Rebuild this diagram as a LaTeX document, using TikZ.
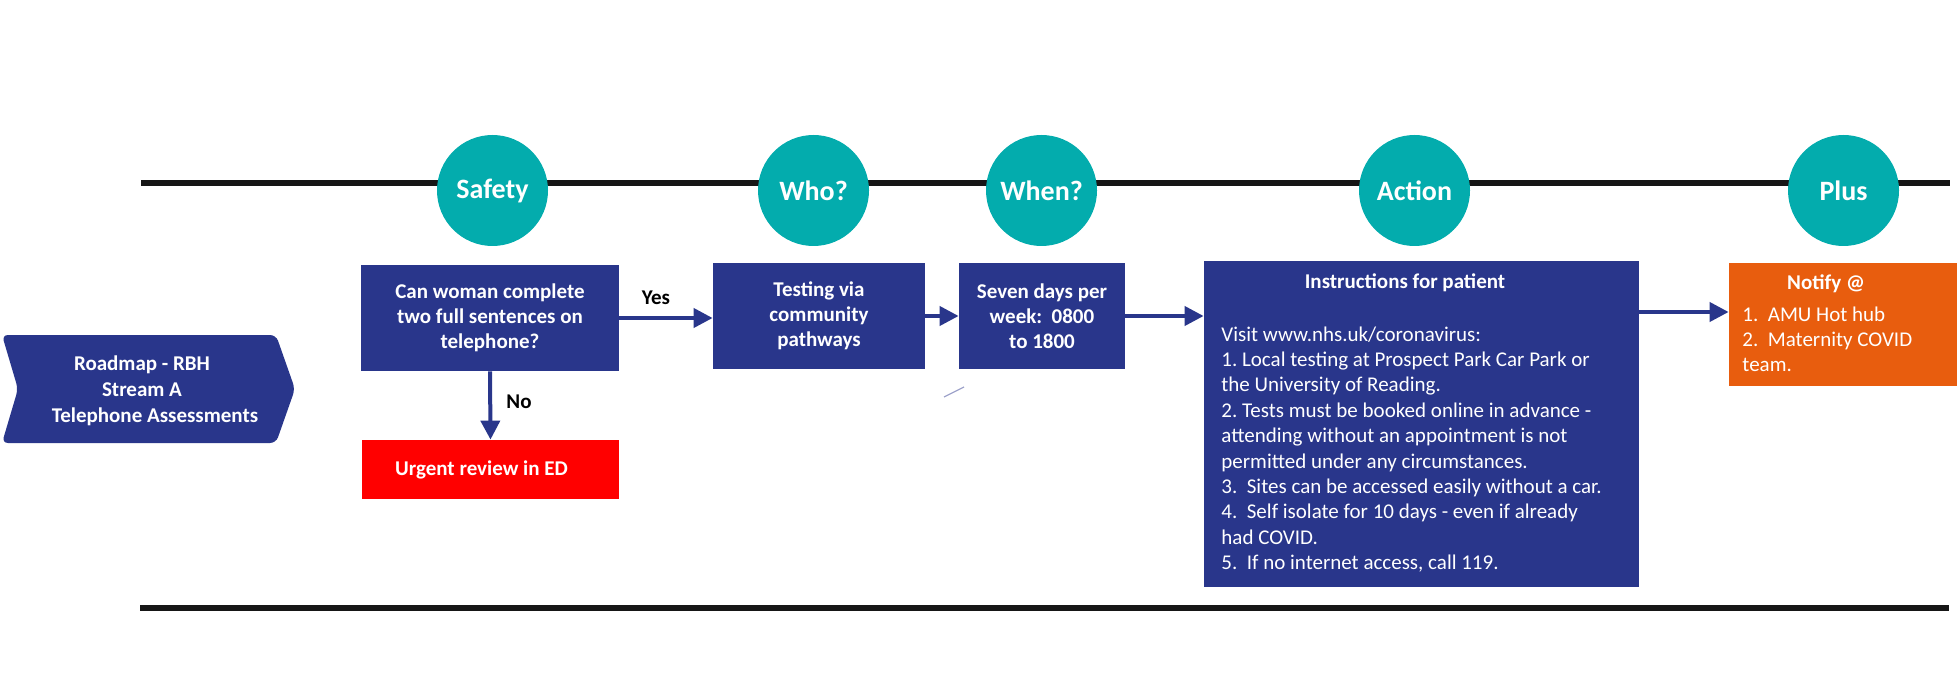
\documentclass[tikz,border=0pt]{standalone}
\usepackage{fontspec}
\setmainfont{Carlito}
\usetikzlibrary{arrows.meta,shapes.geometric}
\definecolor{rbhblue}{RGB}{41,54,139}
\definecolor{rbhteal}{RGB}{3,172,173}
\definecolor{rbhred}{RGB}{255,0,0}
\definecolor{rbhorange}{RGB}{232,93,14}
\definecolor{rbhink}{RGB}{22,22,22}
\frenchspacing
\begin{document}
\begin{tikzpicture}[x=0.5pt,y=-0.5pt,
    stage/.style={circle,fill=rbhteal,text=white,inner sep=0pt,minimum size=55.5pt,font=\fontsize{14}{16}\selectfont\bfseries},
    stepbox/.style={rectangle,fill=rbhblue,text=white,inner sep=0pt,align=center,font=\fontsize{10.5}{12.5}\selectfont\bfseries},
    lbl/.style={inner sep=0pt,font=\fontsize{10.5}{12.5}\selectfont\bfseries},
    bodytext/.style={inner sep=0pt,text=white,anchor=base west,font=\fontsize{10.5}{12.7}\selectfont},
    arr/.style={draw=rbhblue,line width=2pt,-{Triangle[length=9.5pt,width=9.5pt]}},
    rule/.style={draw=rbhink,line width=3pt}]
    \useasboundingbox (0,0) rectangle (1958,684);
    \draw[rule] (141,183)--(1950,183);
    \draw[rule] (140,608)--(1949,608);

    \node[stage] (safetyhead) at (492.5,190.5) {Safety};
    \node[stage] (whohead) at (813.5,190.5) {Who?};
    \node[stage] (whenhead) at (1041.5,190.5) {When?};
    \node[stage] (actionhead) at (1414.5,190.5) {Action};
    \node[stage] (plushead) at (1843.5,190.5) {Plus};

    \fill[rbhblue,rounded corners=3pt] (2,335)--(276,335)--(295,389)--(276,443)--(2,443)--(18,389)--cycle;
    \node[lbl,text=white,align=center,font=\fontsize{10.5}{13}\selectfont\bfseries] (roadmap) at (142,391) {Roadmap - RBH\\Stream A\\\hspace*{13pt}Telephone Assessments};

    \node[stepbox,minimum width=129pt,minimum height=53pt] (question) at (490,318) {Can woman complete\\two full sentences on\\telephone?};
    \node[stepbox,fill=rbhred,minimum width=128.5pt,minimum height=29.5pt] (urgent) at (490.5,469.5) {Urgent review in ED\hspace*{9pt}};
    \node[stepbox,minimum width=106pt,minimum height=53pt] (testing) at (819,316) {Testing via\\community\\pathways};
    \node[stepbox,minimum width=83pt,minimum height=53pt] (hours) at (1042,316) {Seven days per\\week:~~0800\\to 1800};

    \node[stepbox,minimum width=217.5pt,minimum height=163pt] (instructions) at (1421.5,424) {};
    \node[lbl,text=white,anchor=base] (instrtitle) at (1405,288) {Instructions for patient};
    \node[bodytext] (instrbody) at (1221,341) {\parbox[t]{210pt}{\raggedright
        Visit www.nhs.uk/coronavirus:\\
        1. Local testing at Prospect Park Car Park or\\
        the University of Reading.\\
        2. Tests must be booked online in advance -\\
        attending without an appointment is not\\
        permitted under any circumstances.\\
        3.~~Sites can be accessed easily without a car.\\
        4.~~Self isolate for 10 days - even if already\\
        had COVID.\\
        5.~~If no internet access, call 119.}};

    \node[stepbox,fill=rbhorange,minimum width=114pt,minimum height=61.5pt] (notify) at (1843,324.5) {};
    \node[lbl,text=white,anchor=base] (notifytitle) at (1826,289) {Notify @};
    \node[bodytext] (notifylist) at (1742,321) {\parbox[t]{110pt}{\raggedright
        1.~~AMU Hot hub\\
        2.~~Maternity COVID\\
        team.}};

    \draw[arr] (question.east)--(question.east -| testing.west);
    \node[lbl,anchor=base] (yes) at (656,304) {Yes};
    \draw[arr] (question.south)--(urgent.north);
    \node[lbl,anchor=base] (no) at (519,408) {No};
    \draw[arr] (testing.east)--(hours.west);
    \draw[arr] (hours.east)--(hours.east -| instructions.west);
    \coordinate (notifyin) at ([yshift=6.25pt]notify.west);
    \draw[arr] (notifyin -| instructions.east)--(notifyin);

    \coordinate (strayA) at (944,397);
    \coordinate (strayB) at (964,387);
    \draw[rbhblue!45,line width=0.6pt] (strayA)--(strayB);
\end{tikzpicture}
\end{document}
